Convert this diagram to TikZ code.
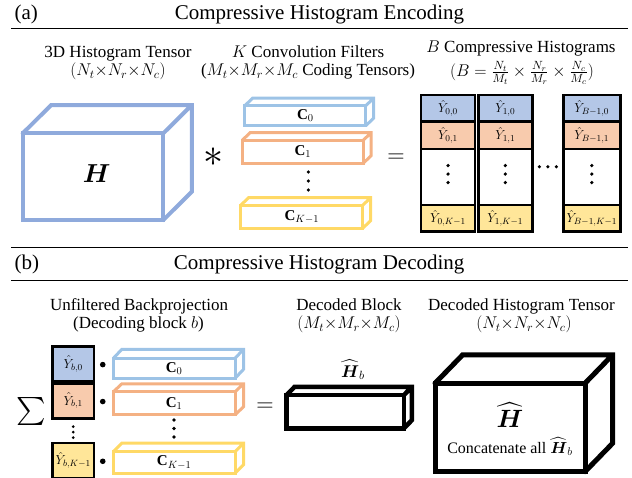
\RequirePackage{fix-cm}
\documentclass[tikz,border=0pt]{standalone}
\usepackage{amsmath,amssymb}
\usepackage{fontspec}
\setmainfont{Liberation Serif}
\usepackage{tikz}
\usetikzlibrary{positioning,calc}
\definecolor{cCube}{HTML}{8FAADC}
\definecolor{cBlue}{HTML}{9DC3E6}
\definecolor{cOrange}{HTML}{F4B183}
\definecolor{cYellow}{HTML}{FFD966}
\definecolor{cBlueL}{HTML}{B4C7E7}
\definecolor{cOrangeL}{HTML}{F8CBAD}
\definecolor{cYellowL}{HTML}{FFE699}
\tikzset{
  ttl/.style={font=\fontsize{21}{24}\selectfont,anchor=base},
  capt/.style={font=\fontsize{17}{20}\selectfont,anchor=base},
  face/.style={draw=#1,fill=white,line width=3pt,inner sep=0pt,outer sep=0pt,font=\fontsize{15}{17}\selectfont},
  face/.default=black,
  cell/.style={draw=black,fill=#1,line width=2.5pt,inner sep=0pt,outer sep=0pt,font=\fontsize{13}{15}\selectfont},
  cell/.default=white,
  dep/.style={draw=#1,line width=3pt,line join=miter,line cap=round},
  rule/.style={line width=1.5pt},
}
% node, offset of the back face, style
\newcommand{\slabdepth}[3]{%
  \draw[#3] (#1.north west) -- ++(#2) -- ($(#1.north east)+(#2)$) -- ($(#1.south east)+(#2)$) -- (#1.south east)
    (#1.north east) -- ++(#2);}

\begin{document}
\begin{tikzpicture}[x=1pt,y=-1pt]
  \useasboundingbox (0,0) rectangle (632,478);
  % (a) encoding
  \node[ttl,anchor=base west] (ta) at (11,19.5) {(a)};
  \node[ttl] (tenc) at (319.5,19.5) {Compressive Histogram Encoding};
  \draw[rule] (11,28.5) -- (627.5,28.5);
  \node[capt] (lh1) at (118,58) {3D Histogram Tensor};
  \node[capt] (lh2) at (118,76) {$(N_t{\times}N_r{\times}N_c)$};
  \node[capt] (lf1) at (308,58) {$K$ Convolution Filters};
  \node[capt] (lf2) at (308,76) {($M_t{\times}M_r{\times}M_c$ Coding Tensors)};
  \node[capt] (ly1) at (521,52.5) {$B$ Compressive Histograms};
  \node[capt] (ly2) at (522,77) {$(B=\frac{N_t}{M_t}\times\frac{N_r}{M_r}\times\frac{N_c}{M_c})$};
  % histogram tensor
  \node[face=cCube,line width=4pt,minimum width=140.6,minimum height=86.7] (hten) at (93,176.7) {};
  \slabdepth{hten}{28.5,-28.3}{dep=cCube,line width=4pt}
  \node[font=\fontsize{26}{28}\selectfont] (hH) at (96.7,173.3) {$\boldsymbol{H}$};
  \node[font=\fontsize{40}{40}\selectfont] (star) at (213.3,157.5) {$\ast$};
  % coding tensors
  \node[face=cBlue,minimum width=121,minimum height=20] (fa0) at (305.3,115.7) {$\mathbf{C}_0$};
  \node[face=cOrange,minimum width=121,minimum height=23] (fa1) at (302.8,151.7) {$\mathbf{C}_1$};
  \node[face=cYellow,minimum width=122,minimum height=23] (faK) at (301.8,216.7) {$\mathbf{C}_{K-1}$};
  \slabdepth{fa0}{7.8,-7.5}{dep=cBlue}
  \slabdepth{fa1}{7.8,-7.5}{dep=cOrange}
  \slabdepth{faK}{7.8,-7.5}{dep=cYellow}
  \foreach \y in {172,181,190} \fill (308.3,\y) circle (1.8pt);
  \node[font=\fontsize{24}{24}\selectfont] (eqa) at (396,158) {$=$};
  % compressive histograms
  \node[cell=cBlueL,minimum width=54,minimum height=26.7] (y00) at (448,108.4) {$\hat{Y}_{0,0}$};
  \node[cell=cOrangeL,minimum width=54,minimum height=27.3,below=0pt of y00] (y01) {$\hat{Y}_{0,1}$};
  \node[cell,minimum width=54,minimum height=56,below=0pt of y01] (y0v) {};
  \node[cell=cYellowL,minimum width=54,minimum height=26.7,below=0pt of y0v] (y0K) {$\hat{Y}_{0,K-1}$};
  \node[cell=cBlueL,minimum width=54,minimum height=26.7,right=3.3pt of y00] (y10) {$\hat{Y}_{1,0}$};
  \node[cell=cOrangeL,minimum width=54,minimum height=27.3,below=0pt of y10] (y11) {$\hat{Y}_{1,1}$};
  \node[cell,minimum width=54,minimum height=56,below=0pt of y11] (y1v) {};
  \node[cell=cYellowL,minimum width=54,minimum height=26.7,below=0pt of y1v] (y1K) {$\hat{Y}_{1,K-1}$};
  \node[cell=cBlueL,minimum width=57,minimum height=26.7,right=31pt of y10] (yB0) {$\hat{Y}_{B-1,0}$};
  \node[cell=cOrangeL,minimum width=57,minimum height=27.3,below=0pt of yB0] (yB1) {$\hat{Y}_{B-1,1}$};
  \node[cell,minimum width=57,minimum height=56,below=0pt of yB1] (yBv) {};
  \node[cell=cYellowL,minimum width=57,minimum height=26.7,below=0pt of yBv] (yBK) {$\hat{Y}_{B-1,K-1}$};
  \foreach \c in {y0v,y1v,yBv}
    \foreach \d in {-11.5,-3,5.5} \fill ($(\c)+(0,\d)$) circle (1.8pt);
  \foreach \d in {-8.5,0,8.5} \fill ($(y1v.east)!0.5!(yBv.west)+(\d,-10.3)$) circle (1.8pt);
  % (b) decoding
  \draw[rule] (11,247.3) -- (627.5,247.3);
  \node[ttl,anchor=base west] (tb) at (11,270) {(b)};
  \node[ttl] (tdec) at (319.2,270) {Compressive Histogram Decoding};
  \draw[rule] (11,280.7) -- (627.5,280.7);
  \node[capt] (lu1) at (139,310.7) {Unfiltered Backprojection};
  \node[capt] (lu2) at (138.5,329) {(Decoding block $b$)};
  \node[capt] (ld1) at (349,310.7) {Decoded Block};
  \node[capt] (ld2) at (349,329) {$(M_t{\times}M_r{\times}M_c)$};
  \node[capt] (lt1) at (521.5,310.7) {Decoded Histogram Tensor};
  \node[capt] (lt2) at (524,329) {$(N_t{\times}N_r{\times}N_c)$};
  \node[font=\fontsize{28}{28}\selectfont] (sum) at (31.5,411) {$\sum$};
  % backprojection terms
  \node[cell=cBlueL,minimum width=41.7,minimum height=34.3] (sq0) at (73.2,363.8) {$\hat{Y}_{b,0}$};
  \node[cell=cOrangeL,minimum width=41.7,minimum height=35,below=2.3pt of sq0] (sq1) {$\hat{Y}_{b,1}$};
  \node[cell=cYellowL,minimum width=41.7,minimum height=35] (sqK) at (73.2,460.5) {$\hat{Y}_{b,K-1}$};
  \foreach \d in {-4,1.5,7} \fill ($(sq1.south)!0.5!(sqK.north)+(0,\d)$) circle (1.5pt);
  \foreach \s in {sq0,sq1,sqK} \fill ($(\s.east)+(8.7,0.8)$) circle (2.8pt);
  \node[face=cBlue,minimum width=121.7,minimum height=20] (fb0) at (174.2,368.3) {$\mathbf{C}_0$};
  \node[face=cOrange,minimum width=121.7,minimum height=23] (fb1) at (174.2,403.3) {$\mathbf{C}_1$};
  \node[face=cYellow,minimum width=121.7,minimum height=21.6] (fbK) at (174.2,462.5) {$\mathbf{C}_{K-1}$};
  \slabdepth{fb0}{8.5,-9}{dep=cBlue}
  \slabdepth{fb1}{8.5,-8}{dep=cOrange}
  \slabdepth{fbK}{8.5,-8.5}{dep=cYellow}
  \foreach \y in {420,428.5,437} \fill (174,\y) circle (1.8pt);
  \node[font=\fontsize{24}{24}\selectfont] (eqb) at (265,407) {$=$};
  % decoded block and tensor
  \node[face,line width=4.5pt,minimum width=117.3,minimum height=33.3] (hblk) at (345.3,411.7) {};
  \slabdepth{hblk}{8,-8.3}{dep=black,line width=4.5pt}
  \node[font=\fontsize{17}{19}\selectfont] (hbl) at (353,370) {$\widehat{\boldsymbol{H}}_b$};
  \node[face,line width=5pt,minimum width=150,minimum height=88.4] (hdec) at (510,427.5) {};
  \slabdepth{hdec}{27.5,-28.3}{dep=black,line width=5pt}
  \node[font=\fontsize{25}{27}\selectfont] (hdl) at (510,415) {$\widehat{\boldsymbol{H}}$};
  \node[font=\fontsize{16}{18}\selectfont] (hcat) at (510,446.7) {Concatenate all $\widehat{\boldsymbol{H}}_b$};
\end{tikzpicture}
\end{document}
